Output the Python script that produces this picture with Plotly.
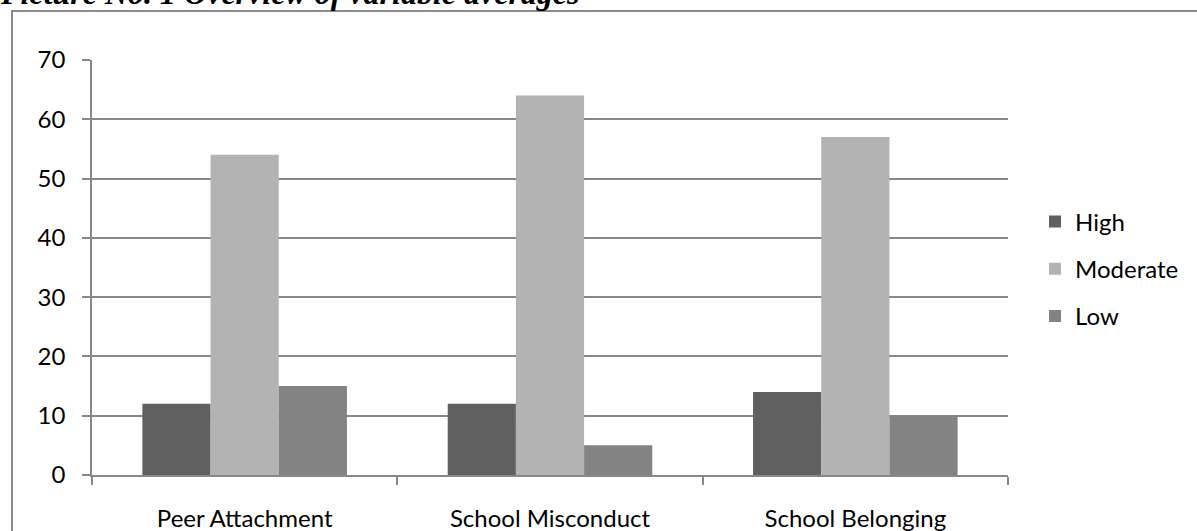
import plotly.graph_objects as go

categories = ["Peer Attachment", "School Misconduct", "School Belonging"]
series_names = ["High", "Moderate", "Low"]
high = [12, 12, 14]
moderate = [54, 64, 57]
low = [15, 5, 10]
y_ticks = [0, 10, 20, 30, 40, 50, 60, 70]
title_text = "Picture No. 1 Overview of variable averages"

colors = ["#606060", "#b3b3b3", "#838383"]
W, H = 1197, 531
L, R, T, B = 92, 189, 60, 56

fig = go.Figure()
for name, vals, col in zip(series_names, [high, moderate, low], colors):
    fig.add_trace(go.Bar(x=categories, y=vals, name=name, marker_color=col,
                         marker_line_width=0, legendgroup=name))

pw = W - L - R
ph = H - T - B
def px_x(px):
    return (px - L) / pw
def px_y(py):
    return (H - B - py) / ph

fig.add_shape(type="rect", xref="paper", yref="paper",
              x0=px_x(12), x1=px_x(W + 20), y0=px_y(H + 20), y1=px_y(11),
              line=dict(color="#8c8c8c", width=2), layer="below")

fig.add_annotation(text="<b><i>" + title_text + "</i></b>", xref="paper", yref="paper",
                   x=px_x(-2), y=px_y(13), xanchor="left", yanchor="bottom",
                   showarrow=False, font=dict(family="Liberation Serif", size=32, color="#000"))

fig.update_layout(
    width=W, height=H,
    margin=dict(l=L, r=R, t=T, b=B, autoexpand=False),
    paper_bgcolor="white", plot_bgcolor="white",
    barmode="group", bargap=0.33, bargroupgap=0,
    font=dict(family="Lato", size=24, color="#000"),
    showlegend=True,
    legend=dict(x=px_x(1035), y=px_y(269), xanchor="left", yanchor="middle",
                font=dict(size=24), tracegroupgap=13, itemwidth=30),
)
fig.update_xaxes(showline=True, linecolor="#888888", linewidth=1.5, automargin=False,
                 ticks="outside", ticklen=8, tickcolor="#888888", tickwidth=1.5,
                 tickson="boundaries", ticklabelstandoff=21,
                 tickfont=dict(size=24), showgrid=False)
fig.update_yaxes(range=[0, 70], tickvals=y_ticks, showline=True, linecolor="#888888", linewidth=1.5,
                 automargin=False,
                 ticks="outside", ticklen=8, tickcolor="#888888", tickwidth=1.5,
                 showgrid=True, gridcolor="#888888", gridwidth=1.5, zeroline=False,
                 tickfont=dict(size=24), ticklabelstandoff=12)

fig.write_html("out.html")
